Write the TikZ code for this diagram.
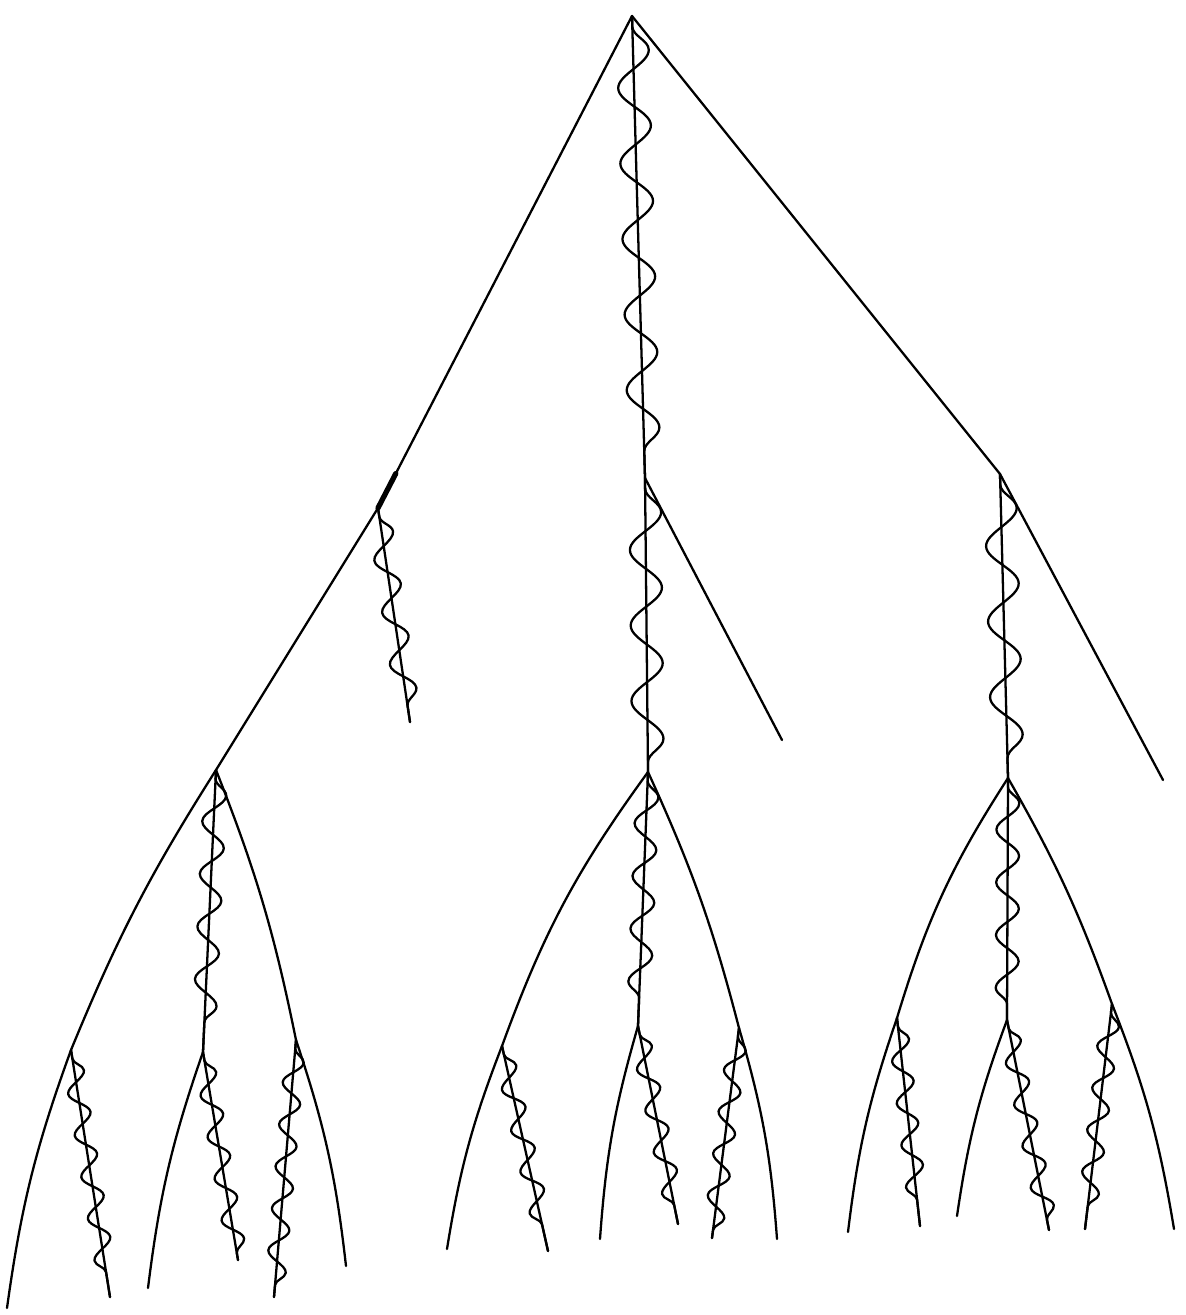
\documentclass[tikz,border=0pt]{standalone}
\usetikzlibrary{decorations.pathmorphing,calc}

\begin{document}
\begin{tikzpicture}[
  x=0.02cm, y=-0.02cm,
  edge/.style={line width=1.3pt,line cap=round,line join=round},
  bigwig/.style={edge,decorate,decoration={snake,amplitude=9pt,segment length=43pt,pre length=6pt,post length=4pt}},
  midwig/.style={edge,decorate,decoration={snake,amplitude=6.5pt,segment length=30pt,pre length=5pt,post length=4pt}},
  smallwig/.style={edge,decorate,decoration={snake,amplitude=5.5pt,segment length=24pt,pre length=5pt,post length=4pt}}
]
\useasboundingbox (0,0) rectangle (1186,1315);
% top
\coordinate (root) at (632,16);
\coordinate (A) at (378,508);
\coordinate (B) at (645,478);
\coordinate (C) at (1000,474);
\coordinate (a1) at (410,722);
\coordinate (b1) at (782,740);
\coordinate (c1) at (1163,780);
% second level
\coordinate (D) at (216,770);
\coordinate (E) at (648,772);
\coordinate (F) at (1008,778);
\coordinate (G) at (71,1050);
\coordinate (H) at (203,1052);
\coordinate (I) at (296,1040);
\coordinate (J) at (502,1046);
\coordinate (K) at (638,1026);
\coordinate (L) at (739,1028);
\coordinate (M) at (897,1018);
\coordinate (N) at (1007,1020);
\coordinate (O) at (1112,1004);
% leaves
\coordinate (g1) at (7,1308);
\coordinate (g2) at (110,1297);
\coordinate (h1) at (148,1288);
\coordinate (h2) at (238,1260);
\coordinate (i1) at (274,1297);
\coordinate (i2) at (346,1266);
\coordinate (j1) at (447,1249);
\coordinate (j2) at (548,1251);
\coordinate (k1) at (600,1239);
\coordinate (k2) at (678,1224);
\coordinate (l1) at (712,1238);
\coordinate (l2) at (777,1239);
\coordinate (m1) at (848,1232);
\coordinate (m2) at (920,1226);
\coordinate (n1) at (957,1216);
\coordinate (n2) at (1049,1230);
\coordinate (o1) at (1085,1229);
\coordinate (o2) at (1174,1229);

% plain edges
\draw[edge] (root) -- (A);
\draw[edge] (root) -- (B);
\draw[edge] (root) -- (C);
\draw[edge,line width=3pt] (A) -- ($(A)!0.07!(root)$);
\draw[edge] (A) -- (D);
\draw[edge] (A) -- (a1);
\draw[edge] (B) -- (E);
\draw[edge] (B) -- (b1);
\draw[edge] (C) -- (F);
\draw[edge] (C) -- (c1);

\draw[edge] (D) to[bend right=5] (G);
\draw[edge] (D) -- (H);
\draw[edge] (D) to[bend left=5] (I);
\draw[edge] (E) to[bend right=8] (J);
\draw[edge] (E) -- (K);
\draw[edge] (E) to[bend left=5] (L);
\draw[edge] (F) to[bend right=8] (M);
\draw[edge] (F) -- (N);
\draw[edge] (F) to[bend left=5] (O);

\draw[edge] (G) to[bend right=6] (g1);
\draw[edge] (G) -- (g2);
\draw[edge] (H) to[bend right=6] (h1);
\draw[edge] (H) -- (h2);
\draw[edge] (I) -- (i1);
\draw[edge] (I) to[bend left=6] (i2);
\draw[edge] (J) to[bend right=6] (j1);
\draw[edge] (J) -- (j2);
\draw[edge] (K) to[bend right=6] (k1);
\draw[edge] (K) -- (k2);
\draw[edge] (L) -- (l1);
\draw[edge] (L) to[bend left=6] (l2);
\draw[edge] (M) to[bend right=6] (m1);
\draw[edge] (M) -- (m2);
\draw[edge] (N) to[bend right=6] (n1);
\draw[edge] (N) -- (n2);
\draw[edge] (O) -- (o1);
\draw[edge] (O) to[bend left=6] (o2);

% wiggles over the middle edges
\draw[bigwig] (root) -- (B);
\draw[bigwig] (B) -- (E);
\draw[bigwig] (C) -- (F);
\draw[midwig] (A) -- (a1);
\draw[midwig] (D) -- (H);
\draw[midwig] (E) -- (K);
\draw[midwig] (F) -- (N);
\draw[smallwig] (G) -- (g2);
\draw[smallwig] (H) -- (h2);
\draw[smallwig] (I) -- (i1);
\draw[smallwig] (J) -- (j2);
\draw[smallwig] (K) -- (k2);
\draw[smallwig] (L) -- (l1);
\draw[smallwig] (M) -- (m2);
\draw[smallwig] (N) -- (n2);
\draw[smallwig] (O) -- (o1);
\end{tikzpicture}
\end{document}
